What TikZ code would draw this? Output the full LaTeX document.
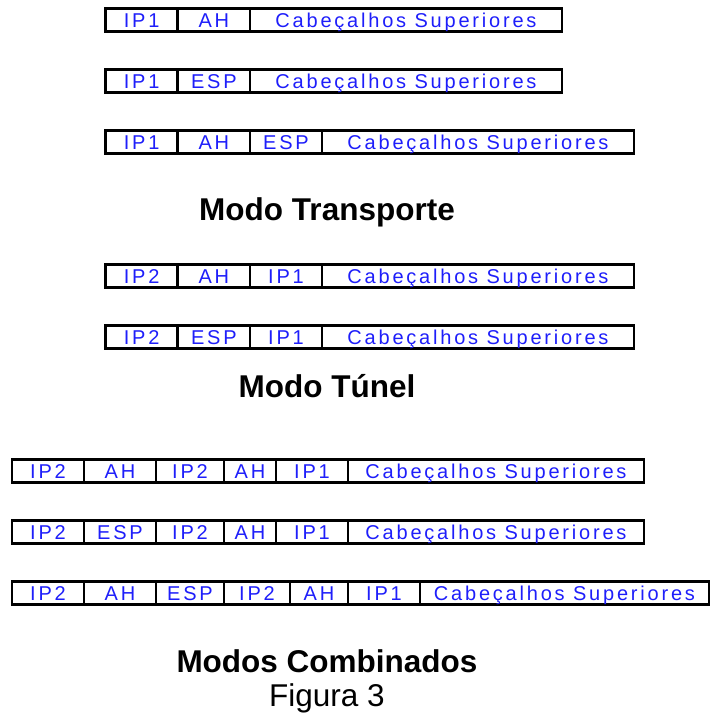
\documentclass[tikz,border=0pt]{standalone}
\usepackage{fontspec}
\setmainfont{Liberation Sans}
\newfontfamily\cellfont[LetterSpace=14]{Liberation Sans}
\definecolor{ipblue}{RGB}{30,30,250}
\tikzset{
  cell/.style={draw, line width=2.6pt, anchor=west, inner sep=0pt, outer sep=0pt,
    minimum height=23.5pt, text height=15pt, text depth=0pt, text=ipblue,
    font=\cellfont\fontsize{20}{20}\selectfont},
  modo/.style={anchor=base, font=\bfseries\fontsize{31.5}{31.5}\selectfont},
}
\begin{document}
\begin{tikzpicture}[x=1pt, y=-1pt]
        \useasboundingbox (0,0) rectangle (713,713);
        % 1. Modo transporte
        \foreach \a/\b/\t [count=\i] in {105.7/177.7/IP1, 177.7/250/AH, 250/562/Cabeçalhos Superiores}
            \node[cell, minimum width=\b-\a] (tr1-\i) at (\a,20) {\t};
        \foreach \a/\b/\t [count=\i] in {105.7/177.7/IP1, 177.7/250/ESP, 250/562/Cabeçalhos Superiores}
            \node[cell, minimum width=\b-\a] (tr2-\i) at (\a,81) {\t};
        \foreach \a/\b/\t [count=\i] in {105.7/177.7/IP1, 177.7/250/AH, 250/322/ESP, 322/634/Cabeçalhos Superiores}
            \node[cell, minimum width=\b-\a] (tr3-\i) at (\a,142) {\t};
        \node[modo] (transp) at (327,220) {Modo Transporte};

        % 2. Modo tunel
        \foreach \a/\b/\t [count=\i] in {105.7/177.7/IP2, 177.7/250/AH, 250/322/IP1, 322/634/Cabeçalhos Superiores}
            \node[cell, minimum width=\b-\a] (tu1-\i) at (\a,276) {\t};
        \foreach \a/\b/\t [count=\i] in {105.7/177.7/IP2, 177.7/250/ESP, 250/322/IP1, 322/634/Cabeçalhos Superiores}
            \node[cell, minimum width=\b-\a] (tu2-\i) at (\a,337) {\t};
        \node[modo] (tunel) at (327,397) {Modo Túnel};

        % 3. Modos combinados
        \foreach \a/\b/\t [count=\i] in {12/84/IP2, 84/156/AH, 156/224/IP2, 224/276/AH, 276/348/IP1, 348/644/Cabeçalhos Superiores}
            \node[cell, minimum width=\b-\a] (co1-\i) at (\a,471) {\t};
        \foreach \a/\b/\t [count=\i] in {12/84/IP2, 84/156/ESP, 156/224/IP2, 224/276/AH, 276/348/IP1, 348/644/Cabeçalhos Superiores}
            \node[cell, minimum width=\b-\a] (co2-\i) at (\a,532) {\t};
        \foreach \a/\b/\t [count=\i] in {12/84/IP2, 84/156/AH, 156/224/ESP, 224/290/IP2, 290/348/AH, 348/420/IP1, 420/709/Cabeçalhos Superiores}
            \node[cell, minimum width=\b-\a] (co3-\i) at (\a,593) {\t};
        \node[modo] (comb) at (327,672) {Modos Combinados};
        \node[anchor=base, font=\fontsize{31.5}{31.5}\selectfont] (fig) at (327,706) {Figura 3};
    \end{tikzpicture}
\end{document}
